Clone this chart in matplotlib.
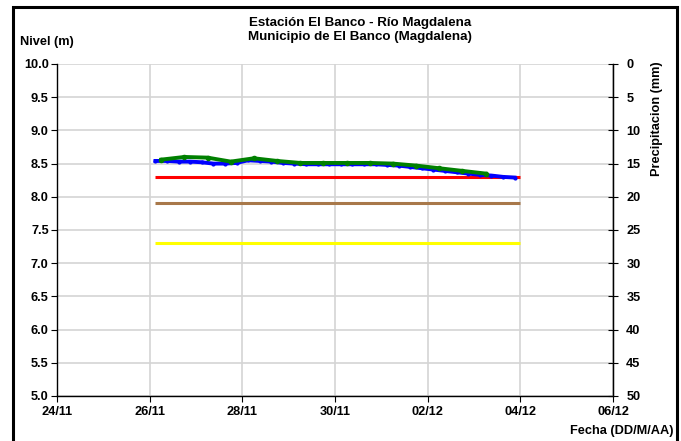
import matplotlib
matplotlib.use("Agg")
import matplotlib.pyplot as plt
import pandas as pd
from matplotlib.patches import Rectangle

plt.rcParams['font.family'] = ['Liberation Sans', 'DejaVu Sans']

# Data
blue_start = "2023-11-26 03:00"
blue_levels = [8.54, 8.54, 8.53, 8.53, 8.52, 8.50, 8.50, 8.51, 8.55, 8.54, 8.53, 8.51,
               8.50, 8.49, 8.49, 8.49, 8.49, 8.49, 8.49, 8.49, 8.48, 8.47, 8.45, 8.43,
               8.41, 8.39, 8.37, 8.35, 8.33, 8.32, 8.30, 8.29]
green_start = "2023-11-26 06:00"
green_levels = [8.56, 8.60, 8.59, 8.53, 8.58, 8.54, 8.51, 8.51, 8.51, 8.51, 8.50,
                8.47, 8.43, 8.39, 8.35]
thr_start = "2023-11-26 03:00"
thr_end = "2023-12-04 00:00"
thr_red = 8.3
thr_brown = 7.9
thr_yellow = 7.3
xtick_labels = ["24/11", "26/11", "28/11", "30/11", "02/12", "04/12", "06/12"]
ytick_left = [5.0, 5.5, 6.0, 6.5, 7.0, 7.5, 8.0, 8.5, 9.0, 9.5, 10.0]
ytick_right = [0, 5, 10, 15, 20, 25, 30, 35, 40, 45, 50]

blue_t = pd.date_range(blue_start, periods=len(blue_levels), freq="6h")
green_t = pd.date_range(green_start, periods=len(green_levels), freq="12h")
thr_t = pd.to_datetime([thr_start, thr_end])
xticks = pd.date_range("2023-11-24", periods=len(xtick_labels), freq="2D")

fig = plt.figure(figsize=(6.81, 4.41), dpi=100)
W, H = 681, 441
ax = fig.add_axes([57 / W, 1 - 396 / H, (613 - 57) / W, (396 - 64) / H])

ax.plot(thr_t, [thr_red] * 2, color="#FF0000", lw=2.2, solid_capstyle="butt", zorder=3)
ax.plot(thr_t, [thr_brown] * 2, color="#A8784A", lw=2.2, solid_capstyle="butt", zorder=3)
ax.plot(thr_t, [thr_yellow] * 2, color="#FFFF00", lw=2.2, solid_capstyle="butt", zorder=3)
ax.plot(blue_t, blue_levels, color="#0000FF", lw=2.8, marker="o", ms=2, zorder=4)
ax.plot(green_t, green_levels, color="#008000", lw=2.8, marker="o", ms=3, zorder=5)

ax.set_xlim(xticks[0], xticks[-1])
ax.set_ylim(5.0, 10.0)
ax.set_xticks(xticks)
ax.set_xticklabels(xtick_labels)
ax.set_yticks(ytick_left)
ax.set_yticklabels([f"{v:.1f}" for v in ytick_left])
ax.grid(True, color="#D4D4D4", lw=1.2)
ax.set_axisbelow(True)
ax.spines["top"].set_visible(False)
for s in ["left", "bottom", "right"]:
    ax.spines[s].set_color("black")
    ax.spines[s].set_linewidth(1.0)
ax.tick_params(axis="x", direction="out", length=4, labelsize=9.2, pad=3)
ax.tick_params(axis="y", direction="out", length=4, labelsize=9.2, pad=2)
for lab in ax.get_xticklabels() + ax.get_yticklabels():
    lab.set_fontweight("bold")

ax2 = ax.twinx()
ax2.set_ylim(50, 0)
ax2.set_yticks(ytick_right)
ax2.set_yticklabels([str(v) for v in ytick_right])
ax2.tick_params(axis="y", direction="inout", length=7, labelsize=9.2, pad=6)
for lab in ax2.get_yticklabels():
    lab.set_fontweight("bold")
for s in ["top", "left", "bottom"]:
    ax2.spines[s].set_visible(False)
ax2.spines["right"].set_color("black")

fig.text(360 / W, 1 - 23 / H, "Estación El Banco - Río Magdalena", ha="center", va="center",
         fontsize=9.6, fontweight="bold")
fig.text(360 / W, 1 - 37 / H, "Municipio de El Banco (Magdalena)", ha="center", va="center",
         fontsize=9.6, fontweight="bold")
fig.text(20 / W, 1 - 42 / H, "Nivel (m)", ha="left", va="center", fontsize=9.2, fontweight="bold")
fig.text(673 / W, 1 - 431 / H, "Fecha (DD/M/AA)", ha="right", va="center", fontsize=9.2,
         fontweight="bold")
fig.text(657 / W, 1 - 119 / H, "Precipitacion (mm)", ha="center", va="center", rotation=90,
         fontsize=9.2, fontweight="bold")

fig.patches.append(Rectangle((13 / W, -0.05), (677 - 13) / W, 1 - 7 / H + 0.05,
                             transform=fig.transFigure, fill=False, edgecolor="black", lw=2.2))

fig.savefig("out.png", dpi=100)
